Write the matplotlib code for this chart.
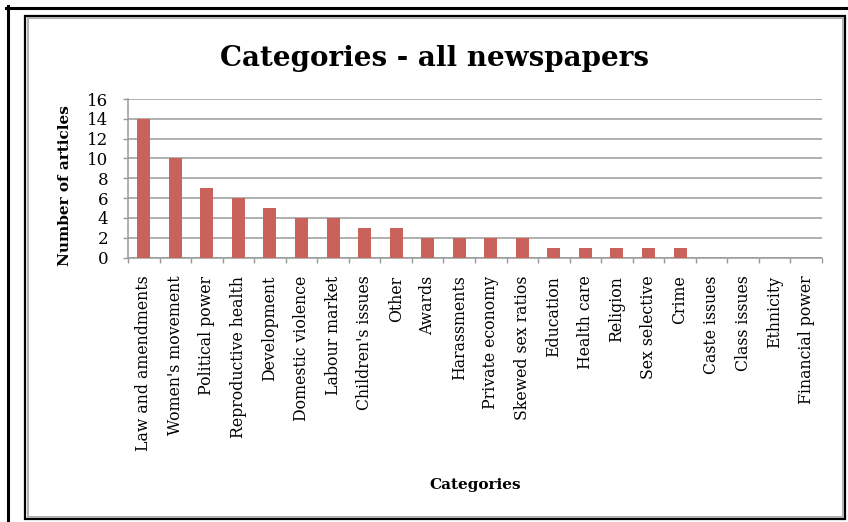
import matplotlib.pyplot as plt
from matplotlib.lines import Line2D
from matplotlib.patches import Rectangle
import numpy as np

categories = ["Law and amendments", "Women's movement", "Political power",
              "Reproductive health", "Development", "Domestic violence",
              "Labour market", "Children's issues", "Other", "Awards",
              "Harassments", "Private economy", "Skewed sex ratios", "Education",
              "Health care", "Religion", "Sex selective", "Crime",
              "Caste issues", "Class issues", "Ethnicity", "Financial power"]
articles = [14, 10, 7, 6, 5, 4, 4, 3, 3, 2, 2, 2, 2, 1, 1, 1, 1, 1, 0, 0, 0, 0]
yticks = [0, 2, 4, 6, 8, 10, 12, 14, 16]

W, H = 848, 522
plt.rcParams['font.family'] = 'DejaVu Serif'

fig = plt.figure(figsize=(W / 100, H / 100), dpi=100)


def fx(px):
    return px / W


def fy(py):
    return 1 - py / H


# frames around the chart
fig.add_artist(Line2D([fx(6), fx(848)], [fy(7.5), fy(7.5)], color='black', lw=2.2))
fig.add_artist(Line2D([fx(7.5), fx(7.5)], [fy(6), fy(522)], color='black', lw=2.2))
fig.add_artist(Rectangle((fx(25), fy(519)), fx(845) - fx(25), fy(15.5) - fy(519),
                         fill=False, ec='black', lw=1.6))
fig.add_artist(Rectangle((fx(27.5), fy(516.5)), fx(842.5) - fx(27.5), fy(18) - fy(516.5),
                         fill=False, ec='#b0b0b0', lw=1.4))

ax = fig.add_axes([fx(128), fy(257.6), fx(822) - fx(128), fy(99) - fy(257.6)])

x = np.arange(len(categories))
ax.bar(x, articles, width=0.41, color='#C9625B', zorder=3)

ax.set_xlim(-0.5, len(categories) - 0.5)
ax.set_ylim(0, 16)
ax.set_yticks(yticks)
ax.grid(axis='y', color='#9a9a9a', lw=1.1, zorder=0)
ax.tick_params(axis='y', length=3.6, width=1, color='#9a9a9a', pad=10.5, labelsize=12)

ax.set_xticks(x)
ax.set_xticklabels(categories, rotation=90, fontsize=11.3, va='top', ha='center')
ax.tick_params(axis='x', length=0, pad=13)
ax.set_xticks(np.arange(len(categories) + 1) - 0.5, minor=True)
ax.tick_params(axis='x', which='minor', length=3.6, width=1, color='#9a9a9a')

for side in ['top', 'right']:
    ax.spines[side].set_visible(False)
for side in ['left', 'bottom']:
    ax.spines[side].set_color('#9a9a9a')
    ax.spines[side].set_linewidth(1.1)

fig.text(fx(435), fy(58), "Categories - all newspapers", fontsize=20,
         fontweight='bold', ha='center', va='center')
fig.text(fx(65), fy(186), "Number of articles", fontsize=11, fontweight='bold',
         rotation=90, ha='center', va='center')
fig.text(fx(475), fy(485), "Categories", fontsize=11, fontweight='bold',
         ha='center', va='center')

fig.savefig('out.png', dpi=100)
